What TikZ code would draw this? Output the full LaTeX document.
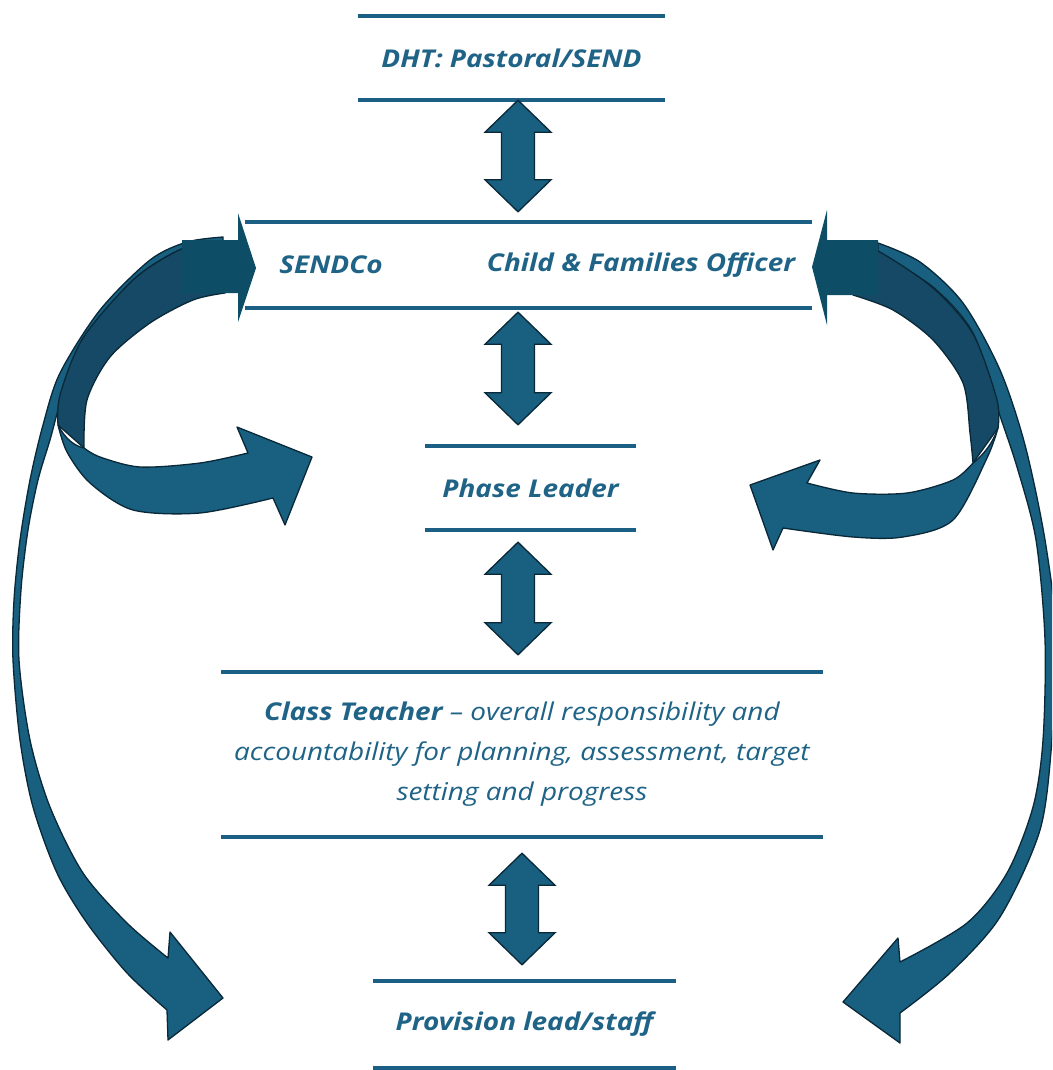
\documentclass[tikz,border=0pt]{standalone}
\usepackage{fontspec}
\setmainfont{Open Sans}[FakeStretch=1.14]
\usepackage{xcolor}
\usepackage{tikz}
\usetikzlibrary{calc}

\definecolor{ruleblue}{RGB}{27,96,132}
\definecolor{textblue}{RGB}{31,99,134}
\definecolor{arrowfill}{RGB}{24,95,128}
\definecolor{arrowdark}{RGB}{21,73,101}
\definecolor{headfill}{RGB}{13,78,102}
\definecolor{arrowedge}{RGB}{9,40,56}

\tikzset{
  band/.style={inner sep=0pt, text=textblue, align=center,
    font=\bfseries\itshape\fontsize{24.5}{40}\selectfont},
  rule/.style={draw=ruleblue, line width=4.5pt},
  lightband/.style={fill=arrowfill, draw=arrowedge, line width=1.3pt, line join=round},
  darkband/.style={fill=arrowdark, draw=arrowedge, line width=1.3pt, line join=round},
  dblblock/.style 2 args={fill=arrowfill, draw=arrowedge, line width=1.3pt, line join=miter,
    to path={let \p1=(\tikztostart), \p2=(\tikztotarget) in
      (\x1,{\y1-#1pt}) -- ({\x1+33pt},{\y1-#1pt-32pt}) -- ({\x1+16.5pt},{\y1-#1pt-32pt})
      -- ({\x1+16.5pt},{\y2+#2pt+32pt}) -- ({\x1+33pt},{\y2+#2pt+32pt}) -- (\x1,{\y2+#2pt})
      -- ({\x1-33pt},{\y2+#2pt+32pt}) -- ({\x1-16.5pt},{\y2+#2pt+32pt})
      -- ({\x1-16.5pt},{\y1-#1pt-32pt}) -- ({\x1-33pt},{\y1-#1pt-32pt}) -- cycle}}
}

\begin{document}
\begin{tikzpicture}[x=1pt, y=-1pt]
\useasboundingbox (0,0) rectangle (1052,1070);
\clip (0,0) rectangle (1052,1070);

% Left side: long arrow down to provision
\draw[lightband] plot[smooth] coordinates {(223,237) (187,242) (150,260) (100,310) (60,373) (43,425) (30,480) (20,540) (14,600) (13,660) (20,740) (33,807) (57,873) (87,923) (127,973) (167,1010)}
  -- (168,1040) -- (223,998) -- (170,932)
  -- plot[smooth] coordinates {(168,958) (127,923) (83,873) (50,807) (30,740) (19,660) (21,590) (28,530) (38,480) (50,440) (63,395) (90,335) (133,280) (180,250) (223,243)} -- cycle;
% Left side: loop arrow SENDCo <-> phase leader
\draw[darkband] plot[smooth] coordinates {(210,241) (177,251) (133,280) (83,338) (60,395) (58,425)}
  -- plot[smooth] coordinates {(84,448) (87,400) (110,357) (150,323) (193,300) (225,293)} -- cycle;
\draw[lightband] (58,425) .. controls (66,440) and (75,446) .. (84,448)
  -- plot[smooth] coordinates {(84,448) (100,457) (140,467) (200,463) (248,453)}
  -- (237,427) -- (312,457) -- (285,525)
  -- plot[smooth] coordinates {(273,498) (200,513) (133,510) (90,483) (67,452) (58,425)} -- cycle;
\fill[headfill] (182,240) -- (238,240) -- (238,213) -- (256,268) -- (238,322) -- (238,293) -- (182,293) -- cycle;

% Right side: long arrow down to provision
\draw[lightband] plot[smooth] coordinates {(878,243) (920,262) (963,303) (1000,370) (1025,445) (1045,540) (1057,640) (1052,740) (1040,830) (1000,917) (950,973) (900,1013)}
  -- (900,1043) -- (843,1002) -- (898,938)
  -- plot[smooth] coordinates {(900,962) (967,923) (1007,873) (1033,807) (1043,740) (1045,640) (1036,540) (1017,467) (997,407) (973,333) (933,287) (878,253)} -- cycle;
% Right side: loop arrow officer <-> phase leader
\draw[darkband] plot[smooth] coordinates {(860,250) (878,251) (933,288) (973,334) (997,400) (998,428)}
  -- plot[smooth] coordinates {(973,463) (970,433) (963,383) (933,340) (893,310) (853,295)} -- cycle;
\draw[lightband] (998,428) .. controls (992,445) and (982,456) .. (973,463)
  -- plot[smooth] coordinates {(973,463) (953,480) (907,493) (853,493) (807,483)}
  -- (820,460) -- (750,485) -- (773,550)
  -- plot[smooth] coordinates {(783,528) (853,537) (903,537) (953,520) (987,458) (998,428)} -- cycle;
\fill[headfill] (878,240) -- (827,240) -- (827,210) -- (812,267) -- (827,325) -- (827,295) -- (878,295) -- cycle;

% Boxes
\node[band, minimum width=307pt, minimum height=84pt] (dht) at (511.5,58) {DHT: Pastoral/SEND};
\node[band, minimum width=567pt, minimum height=86pt] (send) at (528.5,265) {};
\node[band] (sendco) at (331,265) {SENDCo};
\node[band] (cfo) at (641,265) {Child \& Families Officer};
\node[band, minimum width=211pt, minimum height=84pt] (phase) at (530.5,488) {Phase Leader};
\node[band, minimum width=602pt, minimum height=165pt, font=\itshape\fontsize{24.5}{40}\selectfont] (teacher) at (522,754.5)
  {\textbf{Class Teacher} -- overall responsibility and\\accountability for planning, assessment, target\\setting and progress};
\node[band, minimum width=303pt, minimum height=87pt] (prov) at (524.5,1024.5) {Provision lead/staff};
\foreach \n in {dht,send,phase,teacher,prov}
  \draw[rule] (\n.north west) -- (\n.north east) (\n.south west) -- (\n.south east);

% Up/down arrows
\coordinate (ax) at (518,0);
\draw[dblblock={0}{10}] (dht.south -| ax) to (send.north -| ax);
\draw[dblblock={4}{21}] (send.south -| ax) to (phase.north -| ax);
\draw[dblblock={12}{17}] (phase.south -| ax) to (teacher.north -| ax);
\draw[dblblock={16}{16}] (teacher.south) to (prov.north);
\end{tikzpicture}
\end{document}
